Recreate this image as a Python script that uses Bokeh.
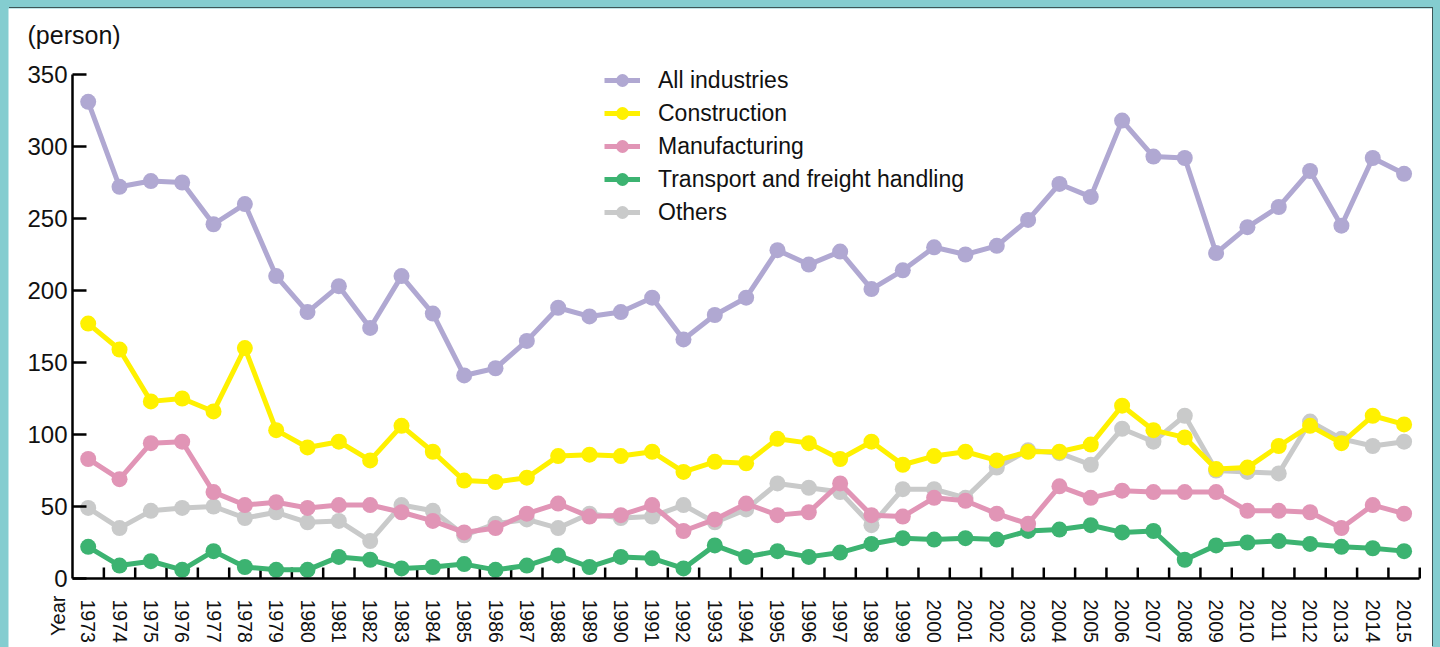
from math import pi
from bokeh.plotting import figure
from bokeh.models import Range1d, FixedTicker, Legend, LegendItem, Label
from bokeh.embed import file_html
from bokeh.resources import INLINE

years = list(range(1973, 2016))
all_industries = [331, 272, 276, 275, 246, 260, 210, 185, 203, 174,
                  210, 184, 141, 146, 165, 188, 182, 185, 195, 166,
                  183, 195, 228, 218, 227, 201, 214, 230, 225, 231,
                  249, 274, 265, 318, 293, 292, 226, 244, 258, 283,
                  245, 292, 281]
construction = [177, 159, 123, 125, 116, 160, 103, 91, 95, 82,
                106, 88, 68, 67, 70, 85, 86, 85, 88, 74,
                81, 80, 97, 94, 83, 95, 79, 85, 88, 82,
                88, 88, 93, 120, 103, 98, 76, 77, 92, 106,
                94, 113, 107]
manufacturing = [83, 69, 94, 95, 60, 51, 53, 49, 51, 51,
                 46, 40, 32, 35, 45, 52, 43, 44, 51, 33,
                 41, 52, 44, 46, 66, 44, 43, 56, 54, 45,
                 38, 64, 56, 61, 60, 60, 60, 47, 47, 46,
                 35, 51, 45]
transport = [22, 9, 12, 6, 19, 8, 6, 6, 15, 13,
             7, 8, 10, 6, 9, 16, 8, 15, 14, 7,
             23, 15, 19, 15, 18, 24, 28, 27, 28, 27,
             33, 34, 37, 32, 33, 13, 23, 25, 26, 24,
             22, 21, 19]
others = [49, 35, 47, 49, 50, 42, 46, 39, 40, 26,
          51, 47, 30, 38, 41, 35, 45, 42, 43, 51,
          39, 48, 66, 63, 60, 37, 62, 62, 56, 77,
          89, 87, 79, 104, 95, 113, 75, 74, 73, 109,
          97, 92, 95]
y_ticks = [0, 50, 100, 150, 200, 250, 300, 350]

series_names = ["All industries", "Construction", "Manufacturing",
                "Transport and freight handling", "Others"]
series_values = [all_industries, construction, manufacturing, transport, others]
series_colors = ["#B0A8D2", "#FFF100", "#E195B6", "#3CB371", "#C9CACA"]
draw_order = [4, 3, 2, 1, 0]

FONT = "Liberation Sans"
TXT = "#111111"

x_lo, x_hi = years[0] - 0.5, years[-1] + 0.5
y_lo, y_hi = y_ticks[0], y_ticks[-1]

p = figure(width=1424, height=639, output_backend="svg", toolbar_location=None,
           x_range=Range1d(1970.456, 2015.907), y_range=Range1d(-47.92, 395.83),
           min_border_left=0, min_border_right=0, min_border_top=0, min_border_bottom=0)
p.styles = {"box-shadow": "1px -1px 0px #3d5657"}
p.outline_line_color = None
p.xgrid.visible = False
p.ygrid.visible = False
p.background_fill_color = "white"
p.border_fill_color = "white"

# x axis: line along zero, labels at year centres
xa = p.xaxis[0]
xa.fixed_location = 0
xa.bounds = (x_lo, x_hi)
xa.ticker = FixedTicker(ticks=years)
xa.major_tick_line_color = None
xa.minor_tick_line_color = None
xa.axis_line_width = 2.5
xa.axis_line_color = "black"
xa.major_label_orientation = "vertical"
xa.major_label_standoff = 15
xa.major_label_text_font = FONT
xa.major_label_text_font_size = "19.5px"
xa.major_label_text_color = TXT

# tick marks between years (pointing up from the axis)
bounds_x = [y + 0.5 for y in years]
p.segment(x0=bounds_x, y0=[0] * len(bounds_x), x1=bounds_x, y1=[7.6] * len(bounds_x),
          line_color="black", line_width=2.5)

ya = p.yaxis[0]
ya.fixed_location = x_lo
ya.bounds = (y_lo, y_hi)
ya.ticker = FixedTicker(ticks=y_ticks)
ya.major_tick_in = 14
ya.major_tick_out = 0
ya.minor_tick_line_color = None
ya.major_tick_line_width = 2.5
ya.axis_line_width = 2.5
ya.major_tick_line_color = "black"
ya.axis_line_color = "black"
ya.major_label_text_font = FONT
ya.major_label_text_font_size = "24px"
ya.major_label_text_color = TXT
ya.major_label_standoff = 5

renderers = {}
for i in draw_order:
    ln = p.line(years, series_values[i], line_color=series_colors[i], line_width=5)
    sc = p.scatter(years, series_values[i], size=16, fill_color=series_colors[i],
                   line_color=None)
    renderers[i] = [ln, sc]

legend = Legend(items=[LegendItem(label=series_names[i], renderers=renderers[i])
                       for i in range(len(series_names))],
                location=(596, 419))
legend.border_line_color = None
legend.background_fill_alpha = 0
legend.padding = 0
legend.margin = 0
legend.spacing = 1
legend.glyph_width = 36
legend.glyph_height = 32
legend.label_height = 32
legend.label_standoff = 18
legend.label_text_font = FONT
legend.label_text_font_size = "23px"
legend.label_text_color = TXT
p.add_layout(legend)

p.add_layout(Label(x=1971.063, y=367.4, text="(person)",
                   text_font=FONT, text_font_size="25px", text_color=TXT,
                   text_baseline="bottom", text_align="left"))
p.add_layout(Label(x=1972.02, y=-11.8, text="Year",
                   angle=pi / 2, text_font=FONT, text_font_size="20px",
                   text_color=TXT, text_baseline="middle", text_align="right"))

style = ("<style>html,body{background:#84CDD0;overflow:hidden;}"
         "body{padding:8px 0 0 8px !important;}</style></head>")
open("out.html", "w").write(file_html(p, INLINE).replace("</head>", style, 1))
